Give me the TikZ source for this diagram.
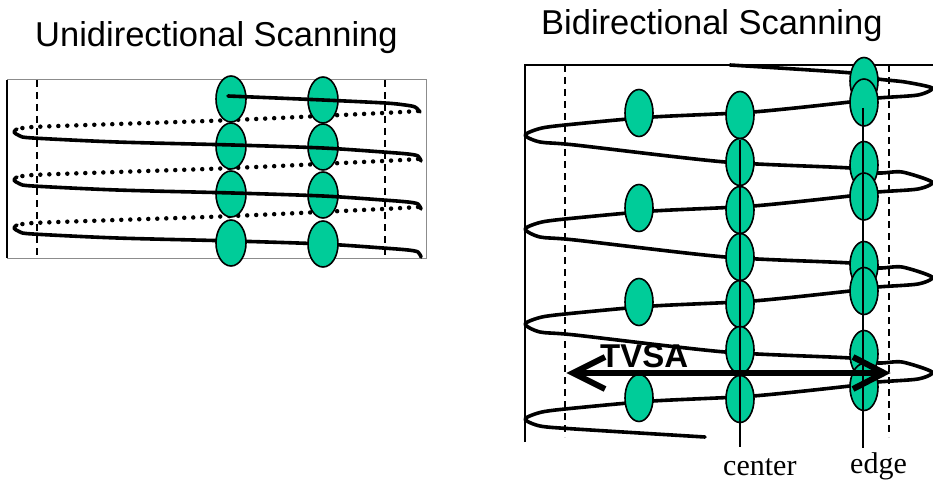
\documentclass[tikz,border=0pt]{standalone}
\usepackage{fontspec}
\setmainfont{Liberation Serif}
\newfontfamily\arialfont{Liberation Sans}
\usetikzlibrary{shapes.geometric}
\definecolor{spotgreen}{RGB}{0,204,153}
\begin{document}
\begin{tikzpicture}[x=1pt,y=-1pt,
  spot/.style={ellipse, draw=black, line width=1.6pt, fill=spotgreen, inner sep=0pt},
  uspot/.style={spot, minimum width=30pt, minimum height=46pt},
  bspot/.style={spot, minimum width=28pt, minimum height=47pt},
  marginline/.style={line width=1.6pt, dash pattern=on 7pt off 5pt},
  scanline/.style={line width=3.6pt, line cap=round, line join=round},
  returnline/.style={line width=4.5pt, line cap=round, dash pattern=on 0pt off 9pt},
  guide/.style={line width=1.6pt},
  tvsa/.style={line width=6pt, line join=miter},
  headline/.style={anchor=base west, inner sep=0pt, font=\arialfont\fontsize{34.5}{40}\selectfont},
  poslabel/.style={anchor=base west, inner sep=0pt, font=\fontsize{30}{34}\selectfont},
]
\useasboundingbox (0,0) rectangle (933,481);

% ---------- titles ----------
\node[headline] (utitle) at (35,47) {Unidirectional Scanning};
\node[headline] (btitle) at (541,35) {Bidirectional Scanning};

% ---------- unidirectional panel ----------
\draw[black!45, line width=1pt] (7,80) -- (426,80) -- (426,258) -- (7,258);
\draw[line width=1.6pt] (7,80) -- (7,258);
\draw[marginline] (37,80) -- (37,258);
\draw[marginline] (385,80) -- (385,258);

% dotted return sweeps (right to left)
\foreach \d in {0,48,96}
  \draw[returnline] plot[smooth, tension=0.5] coordinates
    {(418,111+\d) (383,113+\d) (233,120+\d) (117,124+\d) (33,127+\d) (20,129+\d)};

% last active sweep runs behind the spots
\draw[scanline] plot[smooth, tension=0.5] coordinates
  {(17,225) (14,228) (20,232) (33,234) (117,238) (233,241) (323,244) (383,248) (408,250) (418,252) (421,257)};

% spots
\foreach \y [count=\i] in {99,146,194,243}
  \node[uspot] (ua\i) at (231,\y) {};
\foreach \y [count=\i] in {100,147,195,244}
  \node[uspot] (ub\i) at (323,\y) {};

% active sweeps (left to right)
\draw[scanline] plot[smooth, tension=0.5] coordinates
  {(228,96) (323,100) (385,103) (405,105) (415,107) (420,112)};
\foreach \d in {0,48}
  \draw[scanline] plot[smooth, tension=0.5] coordinates
    {(17,129+\d) (14,132+\d) (20,136+\d) (33,138+\d) (117,142+\d) (233,145+\d) (323,148+\d) (383,152+\d) (408,154+\d) (418,156+\d) (421,161+\d)};

% ---------- bidirectional panel ----------
\draw[line width=1.6pt] (525,442) -- (525,65) -- (933,65);
\draw[marginline] (565,65) -- (565,437);
\draw[marginline] (889,65) -- (889,437);

% zig-zag scan path
\draw[scanline] plot[smooth, tension=0.45] coordinates {
  (730,65) (852,73) (878,79) (905,82) (932,88)
  (918,95) (878,98) (850,102) (753,112) (653,117) (575,124) (542,128) (525,135)
  (540,142) (575,145) (725,162) (850,168) (878,173) (902,172) (932,182)
  (918,189) (878,192) (850,196) (753,206) (653,211) (575,218) (542,222) (525,229)
  (540,237) (575,240) (725,257) (850,263) (878,268) (902,267) (932,277)
  (918,284) (878,287) (850,291) (753,301) (653,306) (575,313) (542,317) (525,324)
  (540,332) (575,335) (725,352) (850,358) (878,363) (902,362) (932,372)
  (918,379) (878,382) (850,386) (753,396) (653,401) (575,408) (542,412) (525,419)
  (540,426) (575,429) (705,437)};

% spots
\foreach \y [count=\i] in {113,208,302,398}
  \node[bspot] (bl\i) at (639,\y) {};
\foreach \y [count=\i] in {115,162,210,257,304,350,399}
  \node[bspot] (bc\i) at (740,\y) {};
\foreach \y [count=\i] in {81,102.5,165,196.5,265,291,354,387}
  \node[bspot] (be\i) at (864,\y) {};

% position guides
\coordinate (ctop) at (740,140);
\coordinate (cbot) at (740,447);
\coordinate (etop) at (863,108);
\coordinate (ebot) at (863,448);
\draw[guide] (ctop) -- (cbot);
\draw[guide] (etop) -- (ebot);

% TVSA double arrow
\coordinate (tl) at (573,373);
\coordinate (tr) at (884,373);
\draw[line width=6pt] (tl) -- (tr);
\draw[tvsa] (605,357) -- (tl) -- (605,389);
\draw[tvsa] (853,357) -- (tr) -- (853,389);
\node[anchor=base west, inner sep=0pt, font=\arialfont\bfseries\fontsize{33}{37}\selectfont] (tvsatext) at (600,367) {TVSA};

% labels
\node[poslabel] (clabel) at (723,475) {center};
\node[poslabel] (elabel) at (850,473) {edge};
\end{tikzpicture}
\end{document}
